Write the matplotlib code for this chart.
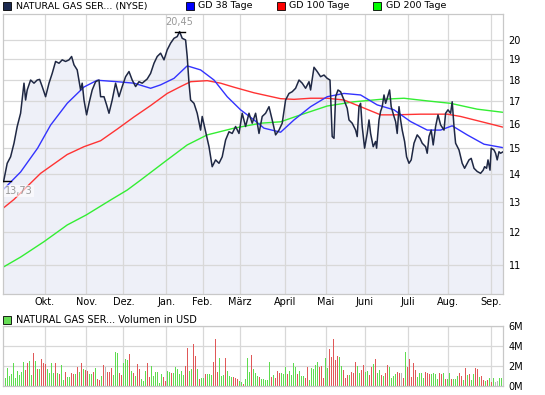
import matplotlib
matplotlib.use("Agg")
import matplotlib.pyplot as plt
import numpy as np
from matplotlib.patches import Rectangle
from matplotlib.ticker import FixedLocator, NullLocator

W, H = 545, 395

# closing prices (trading day index -> USD)
days = [0, 1.8, 3.5, 5.2, 6.8, 8.5, 10.2, 11.0, 11.8, 13.5, 15.2, 16.8, 18.0, 19.3, 21.0, 22.7,
        24.3, 26.0, 27.7, 29.3, 31.0, 32.7, 34.0, 35.2, 36.8, 38.5, 39.3, 40.2, 41.5, 42.7, 44.3,
        46.0, 47.7, 48.5, 50.2, 51.5, 52.7, 54.3, 56.0, 57.7, 59.3, 61.0, 62.7, 64.3, 66.0, 67.7,
        69.3, 71.8, 73.5, 75.2, 76.8, 78.5, 80.2, 81.8, 83.5, 85.2, 86.8, 88.0, 89.3, 91.0, 91.8,
        92.7, 93.5, 95.2, 96.8, 98.5, 99.3, 101.0, 102.7, 104.3, 106.0, 107.7, 109.3, 111.0, 112.7,
        114.3, 116.0, 117.7, 119.3, 121.0, 122.7, 124.3, 126.0, 127.7, 129.3, 131.0, 132.7, 134.3,
        136.0, 137.7, 139.3, 141.0, 142.7, 144.3, 146.0, 147.7, 149.3, 151.0, 152.7, 153.5, 155.2,
        156.8, 158.5, 160.2, 161.8, 163.2, 164.3, 165.2, 166.0, 167.2, 168.5, 170.2, 171.8, 172.7,
        174.3, 176.0, 176.8, 177.7, 178.5, 179.3, 180.5, 181.8, 182.7, 183.5, 184.8, 186.0, 186.5,
        187.7, 188.5, 189.3, 190.2, 191.0, 191.8, 193.0, 193.8, 195.2, 196.0, 196.8, 197.7, 198.5,
        199.3, 200.5, 201.5, 202.7, 203.8, 205.2, 206.8, 208.2, 209.3, 211.0, 211.8, 212.7, 213.8,
        214.8, 216.0, 217.2, 218.5, 220.2, 221.0, 222.2, 223.5, 224.3, 225.2, 226.0, 227.7, 229.3,
        230.5, 232.7, 233.8, 235.2, 236.8, 238.5, 239.8, 240.5, 241.5, 242.2, 243.2, 243.8, 245.2,
        246.0, 246.8, 247.7, 248.5, 249.8]
close = [13.73, 14.41, 14.66, 15.20, 15.89, 16.46, 17.83, 17.05, 17.51, 17.98, 17.83, 17.98, 18.01,
         17.67, 17.20, 17.83, 18.30, 18.89, 18.80, 18.97, 18.89, 18.97, 19.14, 18.72, 18.47, 17.51,
         17.83, 17.05, 16.39, 16.90, 17.51, 17.90, 17.98, 17.20, 17.20, 16.83, 16.46, 17.05, 17.83,
         17.20, 17.67, 18.14, 18.39, 17.98, 17.67, 17.90, 17.83, 18.03, 18.30, 18.80, 19.14, 19.31,
         18.97, 19.48, 19.83, 20.09, 20.18, 20.45, 20.09, 20.00, 19.14, 17.83, 17.05, 16.90, 16.46,
         15.74, 16.32, 15.67, 15.06, 14.28, 14.54, 14.41, 14.66, 15.33, 15.67, 15.60, 15.89, 15.60,
         16.46, 15.89, 16.46, 16.03, 16.46, 15.60, 16.32, 16.46, 16.75, 16.17, 15.54, 15.74, 16.03,
         17.05, 17.35, 17.43, 17.59, 17.98, 17.83, 17.59, 17.90, 17.51, 18.60, 18.39, 18.14, 18.22,
         18.06, 17.98, 15.47, 15.40, 17.20, 17.51, 17.43, 17.05, 16.68, 16.17, 16.03, 15.74, 15.47,
         16.75, 16.90, 15.89, 15.00, 15.60, 16.17, 15.60, 15.06, 15.27, 15.00, 16.17, 16.54, 16.75,
         17.28, 16.90, 17.13, 17.51, 16.75, 16.32, 16.10, 15.60, 16.75, 16.17, 15.74, 15.27, 14.66,
         14.41, 14.54, 15.20, 15.54, 15.40, 15.20, 15.06, 14.80, 15.47, 15.74, 15.13, 15.89, 16.39,
         15.96, 15.74, 16.46, 16.61, 16.46, 16.97, 15.89, 15.20, 14.93, 14.41, 14.22, 14.54, 14.60,
         14.22, 14.10, 14.03, 14.15, 14.28, 14.22, 14.54, 14.15, 15.00, 14.93, 14.80, 14.54, 14.86,
         14.80, 14.86]

# moving averages (GD = gleitender Durchschnitt)
gd38_days = [0, 8.5, 17.0, 23.5, 31.8, 40.2, 46.8, 56.8, 65.2, 73.5, 78.5, 85.2, 91.8, 98.5, 105.2,
             111.8, 118.5, 125.2, 130.2, 138.5, 145.2, 153.5, 161.8, 170.2, 178.5, 186.8, 195.2,
             203.5, 211.8, 218.5, 224.3, 231.8, 240.2, 249.8]
gd38 = [13.45, 14.08, 15.00, 15.95, 16.90, 17.65, 17.97, 17.90, 17.83, 17.59, 17.75, 18.06, 18.67,
        18.47, 17.98, 17.20, 16.61, 16.17, 15.82, 15.65, 16.17, 16.75, 17.20, 17.35, 17.28, 16.83,
        16.61, 16.10, 15.74, 15.74, 15.92, 15.54, 15.16, 15.02]

gd100_days = [0, 5.2, 18.5, 31.8, 40.2, 48.5, 56.8, 65.2, 73.5, 81.8, 88.5, 93.5, 101.8, 108.5,
              115.2, 125.2, 138.5, 145.2, 153.5, 161.8, 170.2, 178.5, 188.5, 195.2, 208.5, 221.8,
              228.5, 236.8, 245.2, 249.8]
gd100 = [12.80, 13.09, 14.03, 14.75, 15.06, 15.30, 15.78, 16.30, 16.80, 17.35, 17.67, 17.90, 17.95,
         17.83, 17.64, 17.38, 17.11, 17.08, 17.13, 17.13, 17.05, 16.75, 16.39, 16.39, 16.42, 16.42,
         16.32, 16.14, 15.96, 15.86]

gd200_days = [0, 8.5, 20.2, 31.8, 41.3, 53.5, 61.8, 68.5, 81.8, 91.8, 101.8, 115.2, 128.5, 138.5,
              148.5, 161.8, 175.2, 188.5, 200.2, 211.8, 223.5, 236.8, 249.8]
gd200 = [10.94, 11.23, 11.70, 12.23, 12.56, 13.07, 13.42, 13.78, 14.54, 15.13, 15.54, 15.82, 16.03,
         16.09, 16.39, 16.78, 16.97, 17.08, 17.13, 17.01, 16.90, 16.64, 16.50]

# daily volume in million USD; g = up day, r = down day, n = unchanged
volume = [1.2, 0.77, 1.77, 1.0, 1.2, 2.33, 0.83, 1.53, 1.1, 1.43, 2.4, 1.6, 2.33, 2.5, 1.13, 3.33,
          2.5, 1.7, 1.7, 2.7, 2.33, 2.23, 1.7, 1.33, 2.33, 1.27, 2.33, 1.33, 1.2, 2.13, 0.6, 1.4,
          0.9, 0.9, 1.3, 1.2, 1.2, 1.9, 1.4, 2.33, 1.7, 1.6, 1.5, 1.2, 1.2, 1.4, 1.83, 0.7, 0.6,
          1.0, 2.13, 1.9, 1.4, 1.4, 1.83, 1.1, 3.4, 3.3, 1.3, 1.1, 2.33, 2.7, 2.6, 3.23, 1.5, 1.3,
          1.0, 2.23, 1.73, 0.7, 0.5, 1.5, 2.3, 0.9, 2.03, 1.0, 1.4, 1.4, 0.3, 1.2, 0.93, 0.5, 1.5,
          1.43, 1.3, 1.3, 1.93, 1.7, 1.2, 1.5, 1.1, 2.0, 3.8, 1.5, 1.7, 4.23, 3.03, 1.67, 0.7, 0.8,
          0.8, 1.2, 1.2, 1.2, 1.1, 2.43, 4.73, 1.4, 2.83, 1.0, 1.1, 2.8, 1.5, 1.0, 0.9, 0.9, 0.8,
          0.7, 0.5, 0.4, 0.2, 0.73, 2.83, 1.4, 3.13, 1.7, 1.3, 1.0, 0.9, 0.7,
          0.7, 0.6, 0.6, 2.4, 0.9, 1.1, 0.8, 1.5, 1.3, 1.3, 1.2, 1.9, 1.2, 1.5, 1.1, 2.3, 1.9, 1.2,
          1.5, 1.0, 1.0, 0.8, 1.9, 0.6, 1.8, 1.7, 2.1, 2.4, 1.9, 2.0, 0.8, 2.8, 1.8, 3.7, 2.9, 4.7,
          2.6, 3.0, 2.9, 2.0, 1.6, 0.8, 1.1, 1.1, 1.4, 1.3, 2.4, 2.0, 1.3, 1.6, 2.1, 1.4, 1.5, 1.1,
          1.9, 2.23, 2.7, 1.3, 1.6, 1.1, 1.0, 1.3, 2.1, 1.9, 0.8, 1.0, 1.2, 1.4, 1.3, 1.3, 0.8, 3.4,
          1.9, 2.7, 0.9, 2.3, 1.6, 0.9, 1.3, 1.3, 0.8, 1.4, 1.3, 1.2, 1.2, 1.3, 1.2, 0.7, 1.3, 1.2,
          1.3, 0.7, 0.7, 1.3, 0.7, 0.7, 0.7, 1.0, 1.3, 1.0, 0.6, 1.8, 1.1, 1.2, 0.6, 1.2, 1.8, 1.7,
          0.9, 1.0, 0.6, 0.5, 0.6, 0.8, 0.4, 0.8, 0.4, 0.5, 0.8, 0.8]
vol_dir = ("rggggggggg" "grrggrgrgr" "rrggggrgrg" "grggrrgrgr" "grrggrgrrg" "rnrrrgggrr"
           "gggrgrgrrg" "ggrrgggggg" "rrggrggggg" "grrggrrgrg" "grgggrrrgg" "grgggrrrgg"
           "rgggrgggrg"
           "ggggrgrrrg" "ggrggggrgg" "grrgggggrr" "rggrrrrrgg" "rrrgrrrggr" "rggrrgrggr"
           "grrggggrrn" "rgrrrrrggg" "grrrggggrr" "grggrgggrr" "grgrggrrgr" "rgrgrgnngg")

months = ["Okt.", "Nov.", "Dez.", "Jan.", "Feb.", "März", "April", "Mai", "Juni", "Juli",
          "Aug.", "Sep."]
month_pos = [20.5, 41.4, 59.9, 81.4, 99.5, 118.0, 140.7, 161.2, 180.7, 202.2, 222.4, 243.9]
price_ticks = [11, 12, 13, 14, 15, 16, 17, 18, 19, 20]
vol_ticks = [0, 2, 4, 6]

grid_c = "#d8d8d8"
spine_c = "#c8c8c8"
fs = 7


def fx(px):
    return px / W


def fy(py):
    return 1 - py / H


fig = plt.figure(figsize=(W / 100, H / 100), dpi=100)
ax = fig.add_axes([fx(3), fy(294), fx(500), 280 / H])
axv = fig.add_axes([fx(3), fy(386), fx(500), 60 / H])

ylo, yhi = 10.18, 21.43
ax.set_yscale("log")
ax.set_ylim(ylo, yhi)
ax.set_xlim(-0.3, 249.7)

ax.fill_between(days, close, ylo, color="#eef0f8", lw=0, zorder=1)
ax.plot(gd200_days, gd200, color="#33ee33", lw=1.0, zorder=2)
ax.plot(gd100_days, gd100, color="#ff3333", lw=1.0, zorder=2)
ax.plot(gd38_days, gd38, color="#3333ff", lw=1.0, zorder=2)
ax.plot(days, close, color="#1f2844", lw=1.1, zorder=3)

# highest / lowest close markers
imax = int(np.argmax(close))
imin = int(np.argmin(close))
ax.plot([days[imax] - 2.5, days[imax] + 2.5], [close[imax]] * 2, color="black", lw=1, zorder=4)
ax.annotate(f"{close[imax]:.2f}".replace(".", ","), (days[imax], close[imax]),
            xytext=(0, 3), textcoords="offset points", ha="center", va="bottom",
            fontsize=fs, color="#999999")
ax.plot([days[imin] - 1.5, days[imin] + 3.5], [close[imin]] * 2, color="black", lw=1, zorder=4)
ax.annotate(f"{close[imin]:.2f}".replace(".", ","), (days[imin], close[imin]),
            xytext=(1, -3), textcoords="offset points", ha="left", va="top",
            fontsize=fs, color="#999999",
            bbox=dict(boxstyle="square,pad=0.1", fc="white", ec="none", alpha=0.6))

ax.yaxis.tick_right()
ax.yaxis.set_major_locator(FixedLocator(price_ticks))
ax.yaxis.set_minor_locator(NullLocator())
ax.set_yticklabels([str(t) for t in price_ticks])
ax.set_xticks(month_pos)
ax.set_xticklabels(months)
ax.tick_params(axis="both", length=0, labelsize=fs, colors="black")
ax.tick_params(axis="y", pad=4)
ax.tick_params(axis="x", pad=2)
ax.grid(True, color=grid_c, lw=0.9)

cols = {"g": "#5fdc50", "r": "#e05858", "n": "#b8b8b8"}
bar_colors = [cols[c] for c in vol_dir]
axv.bar(np.arange(len(volume)), volume, width=0.6, color=bar_colors, lw=0, zorder=2,
        antialiased=False)
axv.set_xlim(-0.3, 249.7)
axv.set_ylim(0, 6)
axv.yaxis.tick_right()
axv.set_yticks(vol_ticks)
axv.set_yticklabels([f"{t}M" for t in vol_ticks])
axv.set_xticks(month_pos)
axv.set_xticklabels([])
axv.tick_params(axis="both", length=0, labelsize=fs, colors="black", pad=4)
axv.grid(True, color=grid_c, lw=0.9)

for a in (ax, axv):
    for s in a.spines.values():
        s.set_color(spine_c)
        s.set_linewidth(0.9)

# legends drawn as plain boxes + text, like the original chart
legend = [(3, "#1c2a50", "NATURAL GAS SER... (NYSE)"), (186, "#0000ff", "GD 38 Tage"),
          (277, "#ff0000", "GD 100 Tage"), (373, "#00ff00", "GD 200 Tage")]
for x0, c, label in legend:
    fig.patches.append(Rectangle((fx(x0), fy(10)), 8 / W, 8 / H, transform=fig.transFigure,
                                 fc=c, ec="black", lw=0.6))
    fig.text(fx(x0 + 12.5), fy(6), label, fontsize=6.8, va="center", ha="left")

fig.patches.append(Rectangle((fx(3), fy(324)), 8 / W, 8 / H, transform=fig.transFigure,
                             fc="#66dd55", ec="black", lw=0.6))
fig.text(fx(15.5), fy(320), "NATURAL GAS SER... Volumen in USD", fontsize=fs, va="center",
         ha="left")

fig.savefig("out.png", dpi=100)
